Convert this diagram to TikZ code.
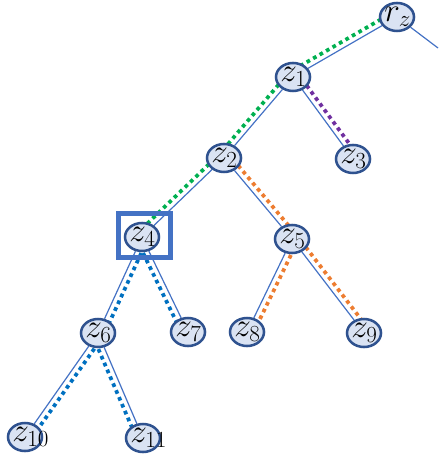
\documentclass[tikz,border=0pt]{standalone}
\usetikzlibrary{shapes.geometric,calc,backgrounds}
\definecolor{nodefill}{RGB}{218,227,243}
\definecolor{nodeline}{RGB}{47,82,143}
\definecolor{edgeblue}{RGB}{68,114,196}
\definecolor{pgreen}{RGB}{0,176,80}
\definecolor{ppurple}{RGB}{112,48,160}
\definecolor{porange}{RGB}{237,125,49}
\definecolor{pblue}{RGB}{0,112,192}
\newcommand{\tlab}[1]{\makebox[0pt][l]{\hspace*{-9.5pt}$#1$}}
\tikzset{
	tnode/.style={ellipse, draw=nodeline, fill=nodefill, line width=1.9pt, minimum width=25.5pt, minimum height=21pt, inner sep=0pt, font=\fontsize{24}{26}\selectfont},
	tedge/.style={edgeblue, line width=0.9pt},
	pathdots/.style={line width=2.8pt, dash pattern=on 2.8pt off 2.8pt}
}
\begin{document}
\begin{tikzpicture}[x=0.75pt,y=0.75pt]
				\useasboundingbox (0,0) rectangle (438,-459);
				\node[tnode] (rz) at (397,-17) {\tlab{r_z}};
				\node[tnode] (z1) at (293,-77) {\tlab{z_1}};
				\node[tnode] (z2) at (224,-158) {\tlab{z_2}};
				\node[tnode] (z3) at (353,-159) {\tlab{z_3}};
				\node[tnode] (z4) at (142,-237) {\tlab{z_4}};
				\node[tnode] (z5) at (292,-239) {\tlab{z_5}};
				\node[tnode] (z6) at (98,-333) {\tlab{z_6}};
				\node[tnode] (z7) at (188,-332) {\tlab{z_7}};
				\node[tnode] (z8) at (247,-332) {\tlab{z_8}};
				\node[tnode] (z9) at (364,-333) {\tlab{z_9}};
				\node[tnode] (z10) at (25,-437) {\tlab{z_{10}}};
				\node[tnode] (z11) at (143,-438) {\tlab{z_{11}}};
				\node[draw=edgeblue, line width=3.6pt, minimum width=39pt, minimum height=33pt, inner sep=0pt] (mark) at (144.5,-235.5) {};
				\coordinate (rzout) at (438,-48);
				\begin{scope}[on background layer]
					\draw[tedge] (rz) -- (rzout);
					\foreach \a/\b in {rz/z1,z1/z2,z1/z3,z2/z4,z2/z5,z4/z6,z4/z7,z5/z8,z5/z9,z6/z10,z6/z11}
						\draw[tedge] (\a) -- (\b);
					% dotted paths beside the edges (side: -90 right, 90 left)
					\foreach \a/\b/\c/\s/\t in {rz/z1/pgreen/-90/90, z1/z2/pgreen/-90/90, z2/z4/pgreen/-90/90,
						z1/z3/ppurple/90/-90, z2/z5/porange/90/-90, z5/z8/porange/90/-90, z5/z9/porange/90/-90,
						z4/z6/pblue/90/-90, z4/z7/pblue/-90/90, z6/z10/pblue/90/-90, z6/z11/pblue/-90/90}
						\draw[pathdots, \c] ($(\a)!4.5pt!\s:(\b)$) -- ($(\b)!4.5pt!\t:(\a)$);
				\end{scope}
			\end{tikzpicture}
\end{document}
